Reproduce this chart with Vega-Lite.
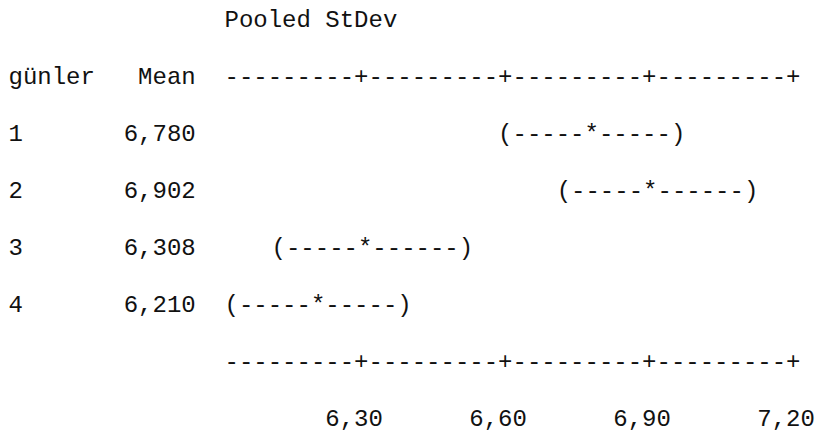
{
  "$schema": "https://vega.github.io/schema/vega-lite/v6.json",
  "description": "Minitab one-way ANOVA: individual 95% CIs for the mean of each level (günler), based on the pooled StDev, drawn as character-cell text.",
  "width": 815,
  "height": 439,
  "autosize": {"type": "none"},
  "padding": 0,
  "background": "white",
  "config": {
    "view": {"stroke": null},
    "locale": {
      "number": {"decimal": ",", "thousands": ".", "grouping": [3], "currency": ["", ""]}
    },
    "text": {"font": "Liberation Mono", "fontSize": 24, "color": "#111111", "baseline": "middle"}
  },
  "datasets": {
    "levels": [
      {"günler": "1", "Mean": 6.780, "ci": "(-----*-----)"},
      {"günler": "2", "Mean": 6.902, "ci": "(-----*------)"},
      {"günler": "3", "Mean": 6.308, "ci": "(-----*------)"},
      {"günler": "4", "Mean": 6.210, "ci": "(-----*-----)"}
    ],
    "ticks": [
      {"tick": 6.30},
      {"tick": 6.60},
      {"tick": 6.90},
      {"tick": 7.20}
    ],
    "one": [{}]
  },
  "resolve": {"scale": {"x": "independent"}},
  "layer": [
    {
      "data": {"name": "one"},
      "mark": {"type": "text", "align": "left", "dx": -7.2, "text": "Pooled StDev"},
      "encoding": {
        "x": {"datum": 6.03, "type": "quantitative", "scale": {"domain": [6.3, 7.2], "range": [361.3, 793.3], "zero": false, "nice": false}, "axis": null},
        "y": {"datum": "title", "type": "nominal", "scale": {"type": "point", "domain": ["title", "header", "1", "2", "3", "4", "axis", "labels"], "range": [20, 419], "padding": 0}, "axis": null}
      }
    },
    {
      "data": {"name": "one"},
      "mark": {"type": "text", "align": "left", "text": "günler"},
      "encoding": {
        "x": {"datum": "günler", "type": "nominal", "scale": {"type": "point", "domain": ["günler", "Mean"], "range": [8.5, 195.7], "padding": 0}, "axis": null},
        "y": {"datum": "header", "type": "nominal", "axis": null}
      }
    },
    {
      "data": {"name": "one"},
      "mark": {"type": "text", "align": "right", "text": "Mean"},
      "encoding": {
        "x": {"datum": "Mean", "type": "nominal", "scale": {"type": "point", "domain": ["günler", "Mean"], "range": [8.5, 195.7], "padding": 0}, "axis": null},
        "y": {"datum": "header", "type": "nominal", "axis": null}
      }
    },
    {
      "data": {"name": "levels"},
      "mark": {"type": "text", "align": "left"},
      "encoding": {
        "x": {"datum": "günler", "type": "nominal", "scale": {"type": "point", "domain": ["günler", "Mean"], "range": [8.5, 195.7], "padding": 0}, "axis": null},
        "y": {"field": "günler", "type": "nominal", "axis": null},
        "text": {"field": "günler", "type": "nominal"}
      }
    },
    {
      "data": {"name": "levels"},
      "mark": {"type": "text", "align": "right"},
      "encoding": {
        "x": {"datum": "Mean", "type": "nominal", "scale": {"type": "point", "domain": ["günler", "Mean"], "range": [8.5, 195.7], "padding": 0}, "axis": null},
        "y": {"field": "günler", "type": "nominal", "axis": null},
        "text": {"field": "Mean", "type": "quantitative", "format": ".3f"}
      }
    },
    {
      "data": {"name": "levels"},
      "mark": {"type": "text", "align": "left", "dx": -93.6},
      "encoding": {
        "x": {"field": "Mean", "type": "quantitative", "scale": {"domain": [6.3, 7.2], "range": [361.3, 793.3], "zero": false, "nice": false}, "axis": null},
        "y": {"field": "günler", "type": "nominal", "axis": null},
        "text": {"field": "ci", "type": "nominal"}
      }
    },
    {
      "data": {"name": "ticks"},
      "mark": {"type": "text", "align": "left", "dx": -136.8, "text": "---------+"},
      "encoding": {
        "x": {"field": "tick", "type": "quantitative", "scale": {"domain": [6.3, 7.2], "range": [361.3, 793.3], "zero": false, "nice": false}, "axis": null},
        "y": {"datum": "header", "type": "nominal", "axis": null}
      }
    },
    {
      "data": {"name": "ticks"},
      "mark": {"type": "text", "align": "left", "dx": -136.8, "text": "---------+"},
      "encoding": {
        "x": {"field": "tick", "type": "quantitative", "scale": {"domain": [6.3, 7.2], "range": [361.3, 793.3], "zero": false, "nice": false}, "axis": null},
        "y": {"datum": "axis", "type": "nominal", "axis": null}
      }
    },
    {
      "data": {"name": "ticks"},
      "mark": {"type": "text", "align": "center", "dx": -7.2},
      "encoding": {
        "x": {"field": "tick", "type": "quantitative", "scale": {"domain": [6.3, 7.2], "range": [361.3, 793.3], "zero": false, "nice": false}, "axis": null},
        "y": {"datum": "labels", "type": "nominal", "axis": null},
        "text": {"field": "tick", "type": "quantitative", "format": ".2f"}
      }
    }
  ]
}
